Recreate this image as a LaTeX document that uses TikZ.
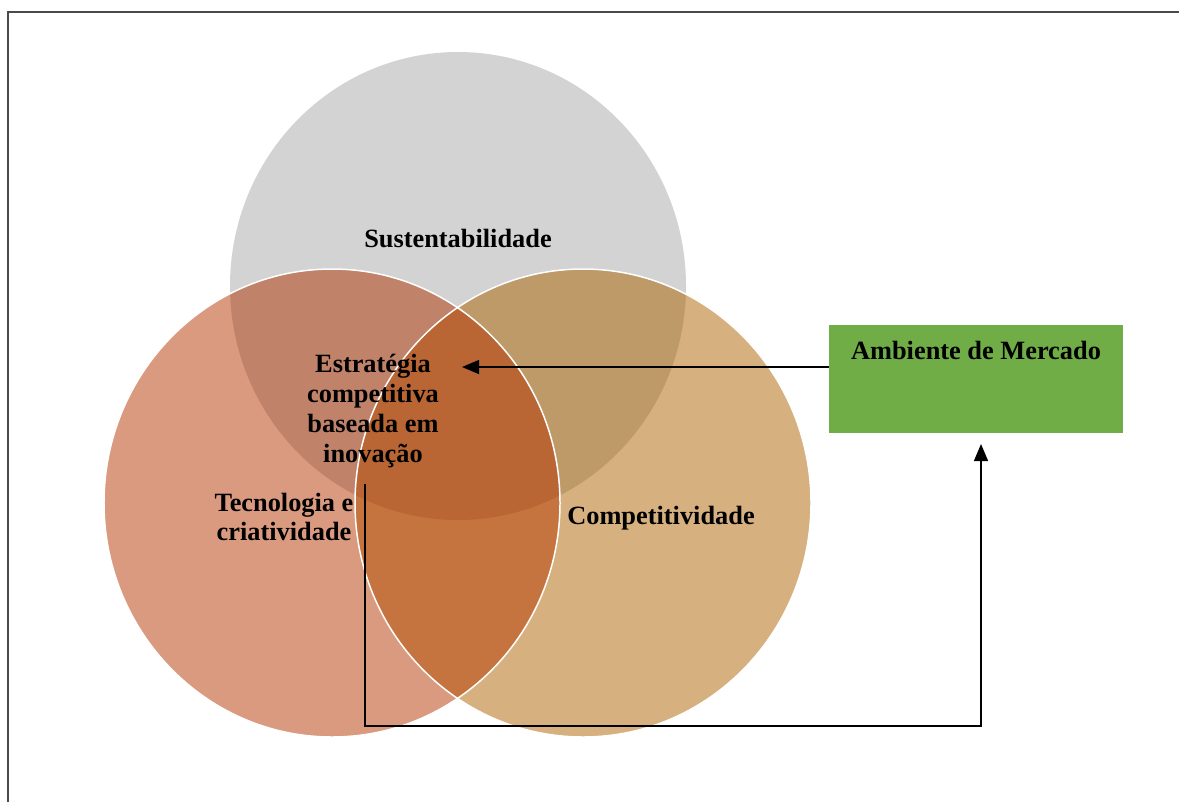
\documentclass[tikz,border=0pt]{standalone}
\usepackage{fontspec}
\setmainfont{Liberation Serif}
\usetikzlibrary{arrows.meta}

\definecolor{cinza}{HTML}{D3D3D3}
\definecolor{salmao}{HTML}{DA9A7F}
\definecolor{areia}{HTML}{D6B07F}
\definecolor{cinzasalmao}{HTML}{C08369}
\definecolor{cinzaareia}{HTML}{BF9A69}
\definecolor{salmaoareia}{HTML}{C5743F}
\definecolor{centro}{HTML}{B96634}
\definecolor{verde}{HTML}{70AD47}
\definecolor{moldura}{HTML}{4A4A4A}

\newcommand{\circS}{(458,286) ellipse [x radius=228, y radius=234]}
\newcommand{\circT}{(332,503) ellipse [x radius=228, y radius=234]}
\newcommand{\circC}{(583,503) ellipse [x radius=228, y radius=234]}

\tikzset{
  rotulo/.style={font=\fontsize{15}{17}\selectfont\bfseries, inner sep=0pt},
  seta/.style={-{Triangle[length=0.34cm, width=0.28cm]}, line width=0.7pt},
  caixa/.style={fill=verde, minimum width=5.88cm, minimum height=2.16cm,
    inner xsep=0pt, inner ysep=0pt, text height=0.68cm, text depth=1.48cm,
    font=\fontsize{15}{17}\selectfont\bfseries}
}

\begin{document}
\begin{tikzpicture}[x=0.02cm, y=-0.02cm]
  \useasboundingbox (0,0) rectangle (1179,802);
  \draw[moldura, line width=0.85pt] (8,802) -- (8,12) -- (1179,12);

  % circulos
  \fill[cinza] \circS;
  \fill[salmao] \circT;
  \fill[areia] \circC;
  \begin{scope}
    \clip \circS;
    \fill[cinzasalmao] \circT;
    \fill[cinzaareia] \circC;
  \end{scope}
  \begin{scope}
    \clip \circT;
    \fill[salmaoareia] \circC;
    \clip \circS;
    \fill[centro] \circC;
  \end{scope}
  \draw[white, line width=0.85pt] \circT;
  \draw[white, line width=0.85pt] \circC;

  \node[rotulo] (sust) at (458,239) {Sustentabilidade};
  \node[rotulo, align=center] (estrategia) at (373,411)
    {Estratégia\\competitiva\\baseada em\\inovação};
  \node[rotulo, align=center] (tecnologia) at (284,517) {Tecnologia e\\criatividade};
  \node[rotulo] (compet) at (661,518) {Competitividade};

  \node[caixa] (mercado) at (976,379) {Ambiente de Mercado};

  \coordinate (alvo) at (462,367);
  \coordinate (origem) at (365,484);
  \coordinate (volta) at (981,726);
  \coordinate (chegada) at (981,444);

  \draw[seta] (mercado.west |- alvo) -- (alvo);
  \draw[seta] (origem) |- (volta) -- (chegada);
\end{tikzpicture}
\end{document}
